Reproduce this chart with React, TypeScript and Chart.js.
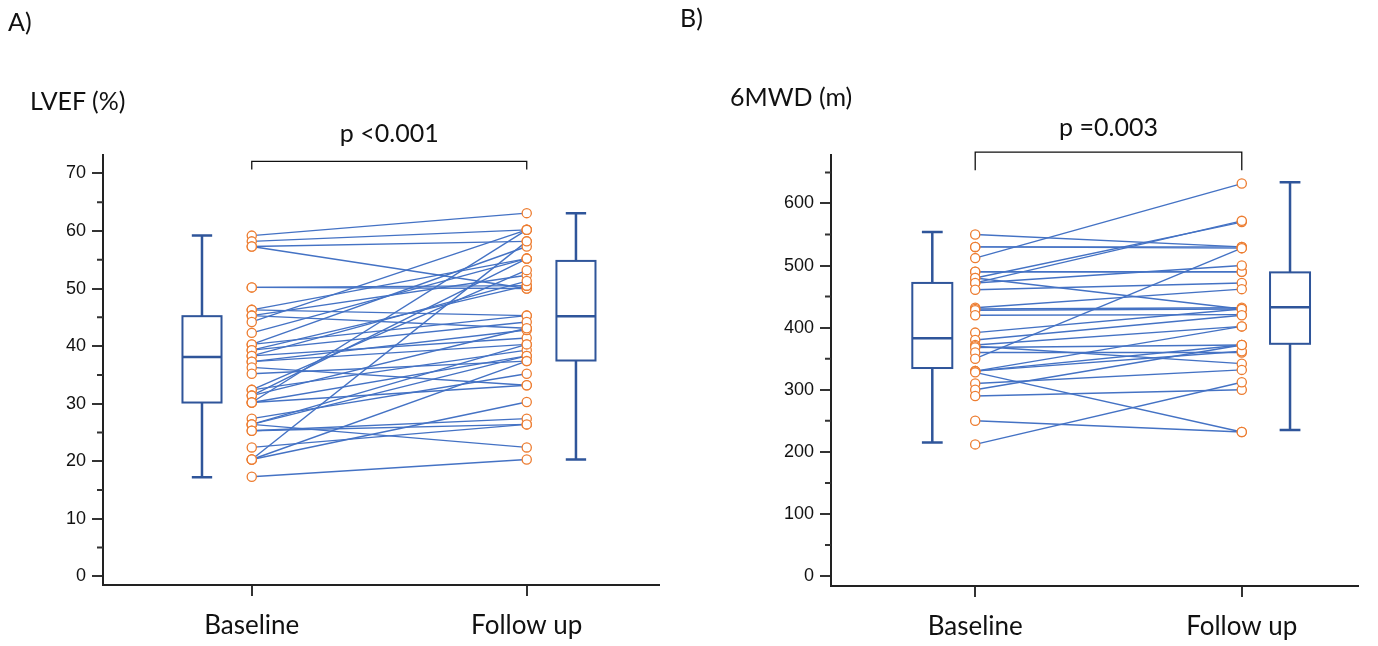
import React, { useEffect, useRef } from "react";
import { Chart, registerables } from "chart.js";
Chart.register(...registerables);

const categories = ["Baseline", "Follow up"];

// Panel A: LVEF (%) paired values
const lvefBaseline = [59.2, 58.2, 57.3, 57.3, 50.2, 50.2, 46.3, 46.3, 45.3, 45.3, 44.2, 42.3, 40.3, 40.3, 39.3, 39.3, 38.3, 38.3, 37.3, 37.3, 36.3, 35.2, 32.4, 32.4, 31.4, 31.4, 30.2, 30.2, 30.2, 27.4, 26.4, 26.4, 26.4, 25.3, 25.3, 22.4, 20.3, 20.3, 20.3, 17.3];
const lvefFollowUp = [63.1, 60.2, 58.2, 50.0, 50.0, 50.5, 45.3, 55.2, 43.1, 52.3, 60.2, 55.2, 45.3, 57.3, 44.2, 50.5, 51.3, 41.4, 40.3, 42.8, 33.2, 37.4, 53.2, 39.3, 55.2, 43.1, 60.2, 38.3, 33.2, 35.2, 40.3, 22.4, 38.3, 26.4, 27.4, 26.4, 30.3, 37.4, 58.2, 20.3];
// min, Q1, median, Q3, max
const lvefBoxBaseline = [17.2, 30.2, 38.1, 45.2, 59.2];
const lvefBoxFollowUp = [20.3, 37.5, 45.2, 54.8, 63.1];
const lvefTicks = [0, 10, 20, 30, 40, 50, 60, 70];
const lvefMinorTicks = [5, 15, 25, 35, 45, 55, 65];

// Panel B: 6MWD (m) paired values
const mwdBaseline = [550, 530, 530, 512, 490, 490, 480, 472, 480, 472, 461, 432, 430, 428, 420, 392, 380, 372, 370, 368, 360, 350, 330, 330, 330, 328, 310, 300, 290, 250, 212];
const mwdFollowUp = [530, 530, 528, 632, 490, 490, 570, 572, 430, 500, 472, 462, 432, 430, 421, 430, 420, 402, 342, 372, 360, 528, 402, 372, 362, 232, 332, 372, 300, 232, 312];
const mwdBoxBaseline = [215, 335, 383, 472, 554];
const mwdBoxFollowUp = [235, 374, 433, 489, 634];
const mwdTicks = [0, 100, 200, 300, 400, 500, 600];
const mwdMinorTicks = [50, 150, 250, 350, 450, 550, 650];

const BLUE = "#4472C4";
const BOX = "#2F559A";
const ORANGE = "#ED7D31";
const AXIS = "#222";

type PanelCfg = {
  base: number[];
  follow: number[];
  boxes: { x: number; s: number[] }[];
  ticks: number[];
  minor: number[];
  yMin: number;
  yMax: number;
  xMin: number;
  xMax: number;
  boxHalf: number;
  capHalf: number;
  bracketY: number;
  legBottom: number;
  pText: string;
  textY: number;
  yWidth: number;
  xHeight: number;
  padRight: number;
};

function makePlugin(cfg: PanelCfg) {
  return {
    id: "extras",
    afterDatasetsDraw(chart: any) {
      const { ctx, scales } = chart;
      const xs = scales.x;
      const ys = scales.y;
      ctx.save();
      // boxes
      cfg.boxes.forEach((b) => {
        const [mn, q1, md, q3, mx] = b.s;
        const xc = xs.getPixelForValue(b.x);
        const xl = xs.getPixelForValue(b.x - cfg.boxHalf);
        const xr = xs.getPixelForValue(b.x + cfg.boxHalf);
        const cl = xs.getPixelForValue(b.x - cfg.capHalf);
        const cr = xs.getPixelForValue(b.x + cfg.capHalf);
        ctx.strokeStyle = BOX;
        ctx.lineWidth = 2.5;
        ctx.beginPath();
        ctx.moveTo(xc, ys.getPixelForValue(mx));
        ctx.lineTo(xc, ys.getPixelForValue(q3));
        ctx.moveTo(xc, ys.getPixelForValue(q1));
        ctx.lineTo(xc, ys.getPixelForValue(mn));
        ctx.moveTo(cl, ys.getPixelForValue(mx));
        ctx.lineTo(cr, ys.getPixelForValue(mx));
        ctx.moveTo(cl, ys.getPixelForValue(mn));
        ctx.lineTo(cr, ys.getPixelForValue(mn));
        ctx.moveTo(xl, ys.getPixelForValue(md));
        ctx.lineTo(xr, ys.getPixelForValue(md));
        ctx.stroke();
        ctx.lineWidth = 2;
        const yt = ys.getPixelForValue(q3);
        const yb = ys.getPixelForValue(q1);
        ctx.strokeRect(xl, yt, xr - xl, yb - yt);
      });
      // minor ticks
      ctx.strokeStyle = "#333";
      ctx.lineWidth = 2;
      ctx.beginPath();
      const left = chart.chartArea.left;
      cfg.minor.forEach((v) => {
        const y = ys.getPixelForValue(v);
        ctx.moveTo(left - 6, y);
        ctx.lineTo(left, y);
      });
      ctx.stroke();
      // bracket
      const bx0 = xs.getPixelForValue(0);
      const bx1 = xs.getPixelForValue(1);
      const by = ys.getPixelForValue(cfg.bracketY);
      const bl = ys.getPixelForValue(cfg.legBottom);
      ctx.strokeStyle = "#111";
      ctx.lineWidth = 1.3;
      ctx.beginPath();
      ctx.moveTo(bx0, bl);
      ctx.lineTo(bx0, by);
      ctx.lineTo(bx1, by);
      ctx.lineTo(bx1, bl);
      ctx.stroke();
      ctx.fillStyle = "#111";
      ctx.font = "25px Lato";
      ctx.textAlign = "center";
      ctx.textBaseline = "middle";
      ctx.fillText(cfg.pText, (bx0 + bx1) / 2, ys.getPixelForValue(cfg.textY));
      ctx.restore();
    },
  };
}

function Panel({ cfg, width, height }: { cfg: PanelCfg; width: number; height: number }) {
  const ref = useRef<HTMLCanvasElement | null>(null);
  useEffect(() => {
    if (!ref.current) return;
    const lineSets = cfg.base.map((b, i) => ({
      type: "scatter" as const,
      showLine: true,
      data: [
        { x: 0, y: b },
        { x: 1, y: cfg.follow[i] },
      ],
      borderColor: BLUE,
      borderWidth: 1.4,
      pointRadius: 0,
      fill: false,
    }));
    const pts = [
      ...cfg.base.map((v) => ({ x: 0, y: v })),
      ...cfg.follow.map((v) => ({ x: 1, y: v })),
    ];
    const chart = new Chart(ref.current, {
      type: "scatter",
      data: {
        datasets: [
          {
            data: pts,
            pointRadius: 4.6,
            pointBorderWidth: 1.3,
            pointBorderColor: ORANGE,
            pointBackgroundColor: "#ffffff",
            showLine: false,
          },
          ...lineSets,
        ] as any,
      },
      options: {
        animation: false,
        responsive: false,
        events: [],
        layout: { padding: { top: 155, right: cfg.padRight, left: 0, bottom: 0 } },
        plugins: { legend: { display: false }, tooltip: { enabled: false } },
        scales: {
          x: {
            type: "linear",
            min: cfg.xMin,
            max: cfg.xMax,
            afterBuildTicks: (s: any) => {
              s.ticks = categories.map((_, i) => ({ value: i }));
            },
            afterFit: (s: any) => {
              s.height = cfg.xHeight;
            },
            ticks: {
              autoSkip: false,
              maxRotation: 0,
              padding: 14,
              color: "#111",
              font: { family: "Lato", size: 26 },
              callback: (_v: any, i: number) => categories[i],
            },
            grid: { drawOnChartArea: false, drawTicks: true, tickLength: 11, color: "#333", lineWidth: 2 },
            border: { display: true, color: AXIS, width: 2 },
          },
          y: {
            type: "linear",
            min: cfg.yMin,
            max: cfg.yMax,
            afterBuildTicks: (s: any) => {
              s.ticks = cfg.ticks.map((v) => ({ value: v }));
            },
            afterFit: (s: any) => {
              s.width = cfg.yWidth;
            },
            ticks: {
              padding: 6,
              color: "#111",
              font: { family: "Liberation Sans", size: 18 },
            },
            grid: { drawOnChartArea: false, drawTicks: true, tickLength: 11, color: "#333", lineWidth: 2 },
            border: { display: true, color: AXIS, width: 2 },
          },
        },
      } as any,
      plugins: [makePlugin(cfg)],
    });
    return () => chart.destroy();
  }, [cfg]);
  return <canvas ref={ref} width={width} height={height} style={{ width, height, display: "block" }} />;
}

const cfgA: PanelCfg = {
  base: lvefBaseline,
  follow: lvefFollowUp,
  boxes: [
    { x: -0.181, s: lvefBoxBaseline },
    { x: 1.179, s: lvefBoxFollowUp },
  ],
  ticks: lvefTicks,
  minor: lvefMinorTicks,
  yMin: -1.5,
  yMax: 73.2,
  xMin: -0.541,
  xMax: 1.481,
  boxHalf: 0.071,
  capHalf: 0.037,
  bracketY: 72.1,
  legBottom: 70.7,
  pText: "p <0.001",
  textY: 76.9,
  yWidth: 103,
  xHeight: 61,
  padRight: 31,
};

const cfgB: PanelCfg = {
  base: mwdBaseline,
  follow: mwdFollowUp,
  boxes: [
    { x: -0.161, s: mwdBoxBaseline },
    { x: 1.181, s: mwdBoxFollowUp },
  ],
  ticks: mwdTicks,
  minor: mwdMinorTicks,
  yMin: -16,
  yMax: 678,
  xMin: -0.541,
  xMax: 1.436,
  boxHalf: 0.075,
  capHalf: 0.039,
  bracketY: 682.6,
  legBottom: 653.6,
  pText: "p =0.003",
  textY: 722,
  yWidth: 141,
  xHeight: 60,
  padRight: 20,
};

const label: React.CSSProperties = {
  position: "absolute",
  fontFamily: "Lato",
  color: "#111",
  whiteSpace: "nowrap",
  lineHeight: 1,
};

export default function App() {
  return (
    <div style={{ position: "absolute", left: 0, top: 0, width: 1378, height: 646, background: "#fff", overflow: "hidden" }}>
      <div style={{ position: "absolute", left: 0, top: 0 }}>
        <Panel cfg={cfgA} width={690} height={646} />
      </div>
      <div style={{ position: "absolute", left: 690, top: 0 }}>
        <Panel cfg={cfgB} width={688} height={646} />
      </div>
      <div style={{ ...label, left: 8, top: 9, fontSize: 25 }}>A)</div>
      <div style={{ ...label, left: 680, top: 5, fontSize: 25 }}>B)</div>
      <div style={{ ...label, left: 30, top: 88, fontSize: 25 }}>LVEF (%)</div>
      <div style={{ ...label, left: 730, top: 84, fontSize: 25 }}>6MWD (m)</div>
    </div>
  );
}
